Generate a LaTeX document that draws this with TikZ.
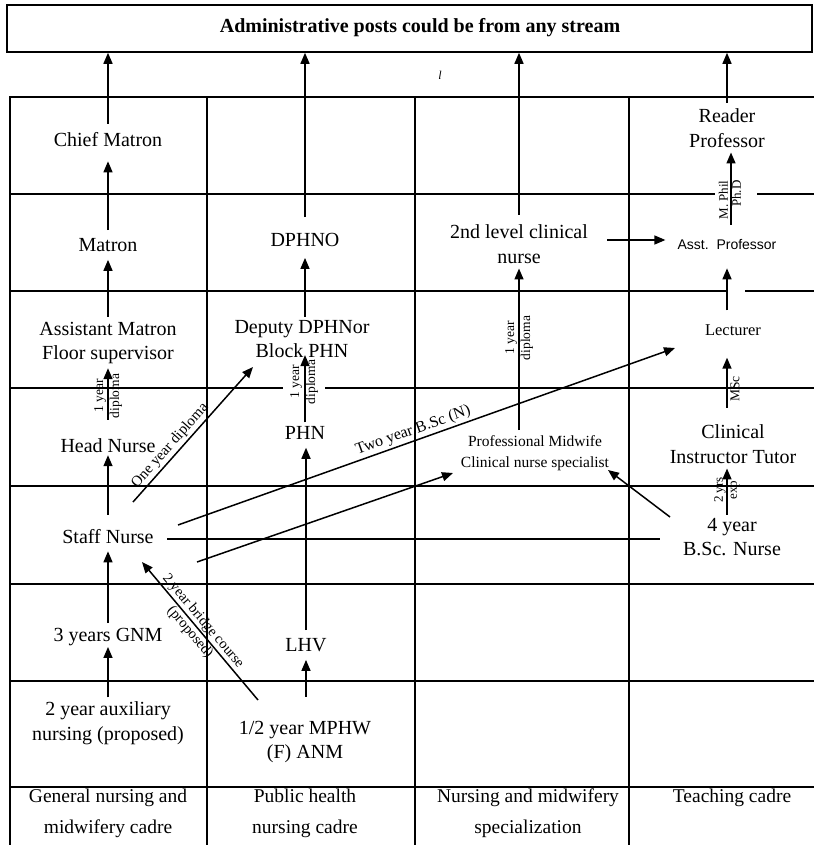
\documentclass[tikz,border=0pt]{standalone}
\usepackage{fontspec}
\setmainfont{Liberation Serif}
\newfontfamily\arialf{Liberation Sans}
\usetikzlibrary{arrows.meta}

\tikzset{
 gridline/.style={line width=1.6pt},
 arr/.style={line width=1.5pt, -{Triangle[length=11pt,width=9pt]}},
 plainline/.style={line width=1.5pt},
 main/.style={inner sep=0pt, align=center, font=\fontsize{20}{24.5}\selectfont},
 smalltext/.style={inner sep=0pt, align=center, font=\fontsize{15.5}{21}\selectfont},
 hdr/.style={inner sep=0pt, align=center, anchor=north, font=\fontsize{19.5}{31}\selectfont},
 lab/.style={inner sep=0pt, rotate=90, align=center, font=\fontsize{13.5}{16}\selectfont},
 slab/.style={inner sep=2pt, sloped, font=\fontsize{15}{17}\selectfont},
}

\begin{document}
\begin{tikzpicture}[x=1pt,y=-1pt]
\useasboundingbox (0,0) rectangle (814,845);
\fill[white] (0,0) rectangle (814,845);

% top box
\node[draw, line width=1.6pt, minimum width=805pt, minimum height=47pt, inner sep=0pt] (admin) at (409.5,28.5) {};
\node[inner sep=0pt, font=\bfseries\fontsize{20}{23}\selectfont] (title) at (420,28) {Administrative posts could be from any stream};
\node[inner sep=0pt, font=\itshape\fontsize{12}{12}\selectfont] (mark) at (440,75) {l};

% grid
\draw[gridline] (10,845) -- (10,97) -- (814,97);
\draw[gridline] (207,97) -- (207,845);
\draw[gridline] (415,97) -- (415,845);
\draw[gridline] (629,97) -- (629,845);
\draw[gridline] (10,194) -- (715,194);
\draw[gridline] (757,194) -- (814,194);
\draw[gridline] (10,291) -- (727,291);
\draw[gridline] (745,291) -- (814,291);
\draw[gridline] (10,388) -- (283,388);
\draw[gridline] (325,388) -- (814,388);
\draw[gridline] (10,486) -- (814,486);
\draw[gridline] (10,584) -- (814,584);
\draw[gridline] (10,681) -- (814,681);
\draw[gridline] (10,787) -- (814,787);

% general nursing column
\node[main] (chief) at (108,140) {Chief Matron};
\node[main] (matron) at (108,245) {Matron};
\node[main] (asstm) at (108,343) {Assistant Matron\\Floor supervisor};
\node[main] (head) at (108,446) {Head Nurse};
\node[main] (staff) at (108,537) {Staff Nurse};
\node[main] (gnm) at (108,637) {3 years GNM};
\node[main] (aux) at (108,723) {2 year auxiliary\\nursing (proposed)};

% public health column
\node[main] (dphno) at (305,240) {DPHNO};
\node[main] (deputy) at (302,339) {Deputy DPHNor\\Block PHN};
\node[main] (phn) at (305,433) {PHN};
\node[main] (lhv) at (306,645) {LHV};
\node[main] (mphw) at (305,742) {1/2 year MPHW\\(F) ANM};

% specialization column
\node[main] (clin2) at (519,244) {2nd level clinical\\nurse};
\node[smalltext] (pmw) at (535,453) {Professional Midwife\\Clinical nurse specialist};

% teaching column
\node[main] (reader) at (727,128) {Reader\\Professor};
\node[inner sep=0pt, font=\arialf\fontsize{14}{17}\selectfont] (asstp) at (727,245) {Asst.\ \ Professor};
\node[inner sep=0pt, font=\fontsize{16.5}{20}\selectfont] (lect) at (733,330) {Lecturer};
\node[main] (cit) at (733,444) {Clinical\\Instructor Tutor};
\node[main] (bsc) at (732,537) {4 year\\B.Sc. Nurse};

% headers
\node[hdr] (h1) at (108,789) {General nursing and\\midwifery cadre};
\node[hdr] (h2) at (305,789) {Public health\\nursing cadre};
\node[hdr] (h3) at (528,789) {Nursing and midwifery\\specialization};
\node[hdr] (h4) at (732,789) {Teaching cadre};

% vertical labels
\node[lab] (l1) at (108,396) {1 year\\diploma};
\node[lab] (l2) at (304,382) {1 year\\diploma};
\node[lab] (l3) at (519,338) {1 year\\diploma};
\node[lab, align=right, font=\fontsize{13}{13}\selectfont] (l4) at (730,200) {M. Phil\\Ph.D};
\node[lab] (l5) at (735,389) {MSc};
\node[lab, font=\fontsize{13}{14}\selectfont] (l6) at (727,490) {2 yrs\\exp};

% arrows to admin box
\draw[arr, shorten <=9pt] (chief.north) -- (chief.north |- admin.south);
\draw[arr, shorten <=16pt] (dphno.north) -- (dphno.north |- admin.south);
\draw[arr, shorten <=10pt] (clin2.north) -- (clin2.north |- admin.south);
\draw[arr, shorten <=6pt] (reader.north) -- (reader.north |- admin.south);

% general column arrows
\draw[arr, shorten <=8pt, shorten >=14pt] (matron.north) -- (chief.south);
\draw[arr, shorten <=5pt, shorten >=8pt] (asstm.north) -- (matron.south);
\draw[arr, shorten <=19pt, shorten >=4pt] (head.north) -- (asstm.south);
\draw[arr, shorten <=15pt, shorten >=2pt] (staff.north) -- (head.south);
\draw[arr, shorten <=5pt, shorten >=7pt] (gnm.north) -- (staff.south);
\draw[arr, shorten <=4pt, shorten >=1pt] (aux.north) -- (gnm.south);

% public health arrows
\draw[arr, shorten <=3pt, shorten >=11pt] (dphno.south |- deputy.north) -- (dphno.south);
\draw[arr, shorten <=4pt, shorten >=-3pt] (phn.north) -- (phn.north |- deputy.south);
\draw[arr, shorten <=8pt, shorten >=8pt] (lhv.north) -- (lhv.north |- phn.south);
\draw[arr, shorten <=24pt, shorten >=8pt] (lhv.south |- mphw.north) -- (lhv.south);

% specialization arrows
\draw[arr, shorten <=5pt, shorten >=5pt] (clin2.south |- pmw.north) -- (clin2.south);
\draw[arr, shorten <=19pt, shorten >=12pt] ([yshift=4pt]clin2.east) -- ([yshift=4pt]clin2.east -| asstp.west);

% teaching arrows
\draw[arr, shorten <=15pt, shorten >=5pt] ([xshift=4pt]asstp.north) -- ([xshift=4pt]asstp.north |- reader.south);
\draw[arr, shorten <=14pt, shorten >=18pt] (asstp.south |- lect.north) -- (asstp.south);
\draw[arr, shorten <=17pt, shorten >=22pt] (asstp.south |- cit.north) -- (asstp.south |- lect.south);
\draw[arr, shorten <=3pt, shorten >=5pt] (asstp.south |- bsc.north) -- (asstp.south |- cit.south);

% diagonal connectors
\draw[arr] ([shift={(25,-35)}]staff.center) -- node[slab, above, pos=0.37] {One year diploma} ([shift={(-49,28)}]deputy.center);
\draw[arr] ([shift={(70,-12)}]staff.center) -- node[slab, above, pos=0.48, font=\fontsize{16}{18}\selectfont] {Two year B.Sc (N)} ([shift={(-58,18)}]lect.center);
\draw[arr] ([shift={(89,25)}]staff.center) -- ([shift={(-82,20)}]pmw.center);
\draw[plainline] ([shift={(59,2)}]staff.center) -- ([shift={(-72,2)}]bsc.center);
\draw[arr] ([shift={(-62,-20)}]bsc.center) -- ([shift={(73,17)}]pmw.center);
\draw[arr] ([shift={(-47,-42)}]mphw.center) -- node[slab, inner sep=0pt, align=center, pos=0.53, font=\fontsize{14.5}{17}\selectfont] {2 year bridge course\\(proposed)} ([shift={(34,25)}]staff.center);
\end{tikzpicture}
\end{document}
